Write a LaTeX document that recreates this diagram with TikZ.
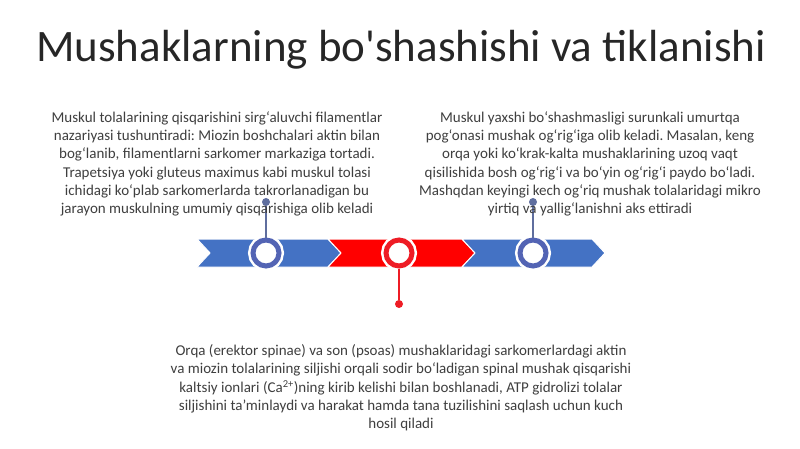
\documentclass[tikz,border=0pt]{standalone}
\usepackage{fontspec}
\setmainfont{Carlito}
\frenchspacing
\definecolor{barblue}{HTML}{4472C4}
\definecolor{ringblue}{HTML}{5364B4}
\definecolor{stemblue}{HTML}{5F6E9E}
\definecolor{barred}{HTML}{FF0000}
\definecolor{ringred}{HTML}{EE1C25}
\definecolor{txtgray}{HTML}{3F3F3F}

\begin{document}
\begin{tikzpicture}[x=1pt,y=-1pt,
  chevron/.style={draw=white,line width=1pt},
  ring/.style={circle,minimum size=26pt,inner sep=0pt,line width=5pt,fill=white,
    preaction={draw=white,line width=10pt}},
  dot/.style={circle,minimum size=8pt,inner sep=0pt},
  body/.style={align=center,text=txtgray,font=\fontsize{15}{18.3}\selectfont}]
\useasboundingbox[fill=white] (0,0) rectangle (800,449);

\path (401,62) node[anchor=base,text=black!85,font=\fontsize{45}{50}\selectfont] (title)
  {Mushaklarning bo\textquotesingle shashishi va tiklanishi};

% the three chevrons
\fill[barblue,chevron] (197,239) -- (328,239) -- (341,253) -- (328,267) -- (197,267) -- (210,253) -- cycle;
\fill[barred,chevron] (328,239) -- (462,239) -- (475,253) -- (462,267) -- (328,267) -- (341,253) -- cycle;
\fill[barblue,chevron] (462,239) -- (592,239) -- (605,253) -- (592,267) -- (462,267) -- (475,253) -- cycle;

\path (266,253) node[ring,draw=ringblue] (c1) {};
\path (399,253) node[ring,draw=ringred] (c2) {};
\path (533,253) node[ring,draw=ringblue] (c3) {};

\path (266,202) node[dot,fill=stemblue] (d1) {};
\draw[stemblue,line width=1.5pt] (d1) -- (c1);
\path (399,304) node[dot,fill=ringred] (d2) {};
\draw[ringred,line width=1.5pt] (c2) -- (d2);
\path (533,202) node[dot,fill=stemblue] (d3) {};
\draw[stemblue,line width=1.5pt] (d3) -- (c3);

\path (217,164) node[body] (t1) {Muskul tolalarining qisqarishini sirg‘aluvchi filamentlar\\
  nazariyasi tushuntiradi: Miozin boshchalari aktin bilan\\
  bog‘lanib, filamentlarni sarkomer markaziga tortadi.\\
  Trapetsiya yoki gluteus maximus kabi muskul tolasi\\
  ichidagi ko‘plab sarkomerlarda takrorlanadigan bu\\
  jarayon muskulning umumiy qisqarishiga olib keladi};

\path (590,164) node[body] (t3) {Muskul yaxshi bo‘shashmasligi surunkali umurtqa\\
  pog‘onasi mushak og‘rig‘iga olib keladi. Masalan, keng\\
  orqa yoki ko‘krak-kalta mushaklarining uzoq vaqt\\
  qisilishida bosh og‘rig‘i va bo‘yin og‘rig‘i paydo bo‘ladi.\\
  Mashqdan keyingi kech og‘riq mushak tolalaridagi mikro\\
  yirtiq va yallig‘lanishni aks ettiradi};

\path (401,388) node[body] (t2) {Orqa (erektor spinae) va son (psoas) mushaklaridagi sarkomerlardagi aktin\\
  va miozin tolalarining siljishi orqali sodir bo‘ladigan spinal mushak qisqarishi\\
  kaltsiy ionlari (Ca\textsuperscript{2+})ning kirib kelishi bilan boshlanadi, ATP gidrolizi tolalar\\
  siljishini ta’minlaydi va harakat hamda tana tuzilishini saqlash uchun kuch\\
  hosil qiladi};
\end{tikzpicture}
\end{document}
